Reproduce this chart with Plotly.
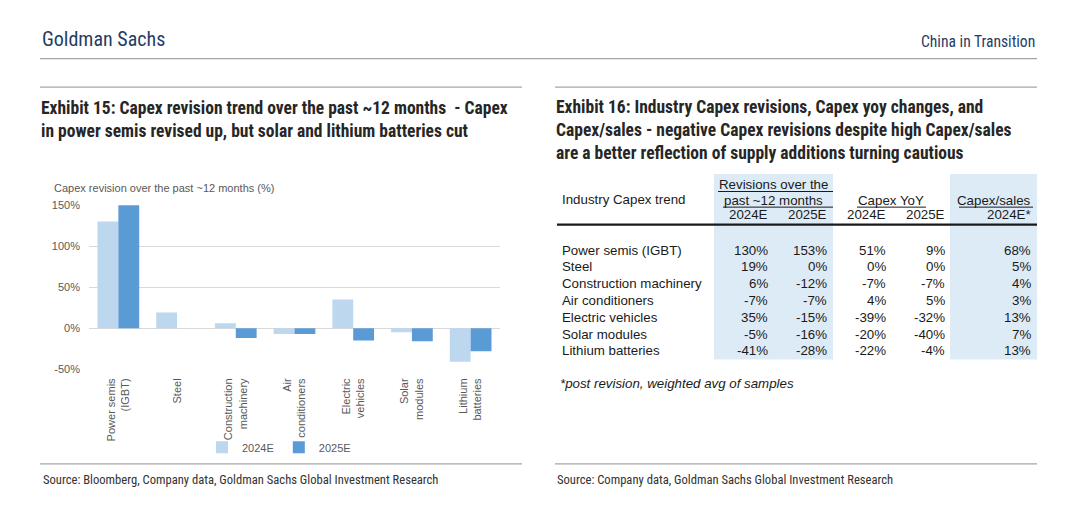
import plotly.graph_objects as go

# ---------------- data ----------------
chart_categories = ["Power semis<br>(IGBT)", "Steel", "Construction<br>machinery", "Air<br>conditioners",
                    "Electric<br>vehicles", "Solar<br>modules", "Lithium<br>batteries"]
industries = ["Power semis (IGBT)", "Steel", "Construction machinery", "Air conditioners",
              "Electric vehicles", "Solar modules", "Lithium batteries"]
rev_2024 = [130, 19, 6, -7, 35, -5, -41]
rev_2025 = [153, 0, -12, -7, -15, -16, -28]
yoy_2024 = [51, 0, -7, 4, -39, -20, -22]
yoy_2025 = [9, 0, -7, 5, -32, -40, -4]
capex_sales_2024 = [68, 5, 4, 3, 13, 7, 13]
series_names = ["2024E", "2025E"]
y_ticks = [-50, 0, 50, 100, 150]
y_ticklabels = ["-50%", "0%", "50%", "100%", "150%"]

# ---------------- helpers ----------------
W, H = 1080, 508
def X(px):
    return px / W
def Y(py):
    return 1 - py / H

NARROW = "Liberation Sans Narrow, Arial Narrow, Roboto Condensed, Liberation Sans, sans-serif"
ARIAL = "Liberation Sans, Arial, sans-serif"
C_LIGHT = "#bdd7ee"
C_DARK = "#5b9bd5"
C_SHADE = "#ddebf7"
C_GRAY = "#595959"

fig = go.Figure()
fig.add_trace(go.Bar(x=chart_categories, y=rev_2024, name=series_names[0], marker_color=C_LIGHT,
                     marker_line_width=0))
fig.add_trace(go.Bar(x=chart_categories, y=rev_2025, name=series_names[1], marker_color=C_DARK,
                     marker_line_width=0))

annotations = []
shapes = []

def text(x, y, s, size, color="#262626", family=ARIAL, xanchor="left", yanchor="middle"):
    annotations.append(dict(x=X(x), y=Y(y), xref="paper", yref="paper", text=s, showarrow=False,
                            xanchor=xanchor, yanchor=yanchor, align=xanchor if xanchor != "center" else "center",
                            font=dict(size=size, color=color, family=family)))

def hline(x0, x1, y, color="#a6a6a6", width=1.2):
    shapes.append(dict(type="line", xref="paper", yref="paper", x0=X(x0), x1=X(x1), y0=Y(y), y1=Y(y),
                       line=dict(color=color, width=width)))

def rect(x0, x1, y0, y1, color):
    shapes.append(dict(type="rect", xref="paper", yref="paper", x0=X(x0), x1=X(x1), y0=Y(y1), y1=Y(y0),
                       fillcolor=color, line=dict(width=0), layer="below"))

# ---- page header ----
text(40, 34, "Goldman Sachs", 20, color="#1f3d66", family=NARROW)
text(1037, 37, "China in Transition", 15.6, color="#1f3d66", family=NARROW, xanchor="right")
hline(40, 1037, 54)
hline(40, 522, 83)
hline(555, 1037, 83)

# ---- exhibit titles ----
text(39, 116, "<b>Exhibit 15: Capex revision trend over the past ~12 months  - Capex<br>"
              "in power semis revised up, but solar and lithium batteries cut</b>", 17.5,
     family=NARROW)
text(554, 127, "<b>Exhibit 16: Industry Capex revisions, Capex yoy changes, and<br>"
               "Capex/sales - negative Capex revisions despite high Capex/sales<br>"
               "are a better reflection of supply additions turning cautious</b>", 17.5,
     family=NARROW)

# ---- chart extras ----
text(52, 186, "Capex revision over the past ~12 months (%)", 11, color=C_GRAY)

# ---- footers ----
hline(40, 522, 469)
hline(555, 1037, 469)
text(41, 485, "Source: Bloomberg, Company data, Goldman Sachs Global Investment Research", 12.6,
     color="#333333", family=NARROW)
text(555, 485, "Source: Company data, Goldman Sachs Global Investment Research", 12.6,
     color="#333333", family=NARROW)

# ---- table ----
rect(714, 833, 172, 362, C_SHADE)
rect(950, 1037, 172, 362, C_SHADE)
TS = 13.3
TC = "#1a1a1a"
text(560, 198, "Industry Capex trend", TS, color=TC)
text(773, 183, "Revisions over the", TS, color=TC, xanchor="center")
text(773, 199, "past ~12 months", TS, color=TC, xanchor="center")
text(891, 199, "Capex YoY", TS, color=TC, xanchor="center")
text(1033, 199, "Capex/sales", TS, color=TC, xanchor="right")
hline(718, 833, 190, color=TC, width=1)
hline(723, 833, 206, color=TC, width=1)
hline(857, 926, 206, color=TC, width=1)
hline(959, 1033, 206, color=TC, width=1)

col_right = [770, 829, 888, 947, 1033]
col_heads = ["2024E", "2025E", "2024E", "2025E", "2024E*"]
for xr, h in zip(col_right, col_heads):
    text(xr, 214, h, TS, color=TC, xanchor="right")
hline(557, 1037, 224, color=TC, width=2.2)

columns = [rev_2024, rev_2025, yoy_2024, yoy_2025, capex_sales_2024]
for i, name in enumerate(industries):
    yy = 250 + i * 17.2
    text(560, yy, name, TS, color=TC)
    for xr, col in zip(col_right, columns):
        text(xr, yy, f"{col[i]}%", TS, color=TC, xanchor="right")

text(558, 387, "<i>*post revision, weighted avg of samples</i>", 13.3, color=TC)

fig.update_layout(
    width=W, height=H, margin=dict(l=0, r=0, t=0, b=0),
    paper_bgcolor="white", plot_bgcolor="white",
    barmode="group", bargap=0.29, bargroupgap=0,
    font=dict(family=ARIAL, color=C_GRAY, size=11),
    xaxis=dict(domain=[X(89), X(500)], tickangle=-90, tickfont=dict(size=11, color=C_GRAY),
               showline=False, ticks="", showgrid=False, ticklabelstandoff=6),
    yaxis=dict(domain=[Y(372), Y(204)], range=[-50, 150], tickvals=y_ticks, ticktext=y_ticklabels,
               showgrid=True, gridcolor="#d9d9d9", gridwidth=1, zeroline=True, zerolinecolor="#d9d9d9",
               zerolinewidth=1, tickfont=dict(size=11, color=C_GRAY), ticks="", ticklabelstandoff=8),
    showlegend=True,
    legend=dict(orientation="h", x=X(202), y=Y(452), xanchor="left", yanchor="middle",
                font=dict(size=11, color=C_GRAY), bgcolor="rgba(0,0,0,0)", itemwidth=30,
                traceorder="normal"),
    annotations=annotations, shapes=shapes,
)

fig.write_html("out.html", config={"displayModeBar": False},
               post_script="document.body.style.margin='0';document.documentElement.style.overflow='hidden';")
